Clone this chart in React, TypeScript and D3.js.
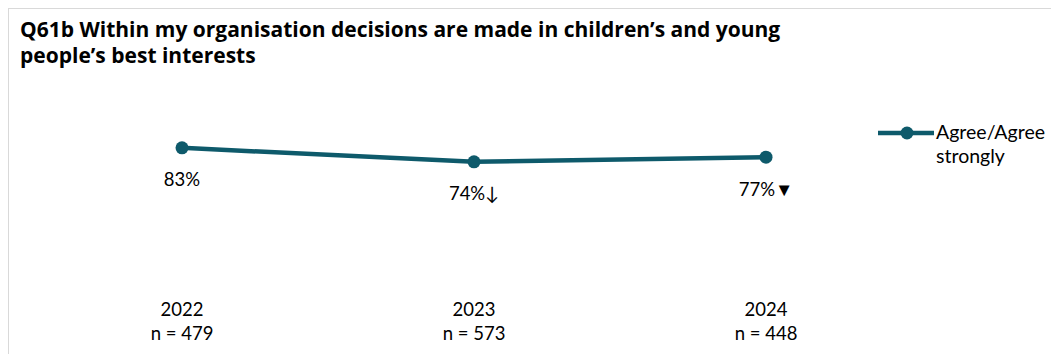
import React from "react";
import * as d3 from "d3";

const years = ["2022", "2023", "2024"];
const sampleSizes = ["n = 479", "n = 573", "n = 448"];
const values = [83, 74, 77];
const valueLabels = ["83%", "74%↓", "77%▼"];
const seriesName = ["Agree/Agree", "strongly"];
const titleLines = [
  "Q61b Within my organisation decisions are made in children’s and young",
  "people’s best interests",
];

const W = 1051;
const H = 354;
const COLOR = "#0e5a6b";
const FONT = "Lato, 'Open Sans', sans-serif";
const TITLE_FONT = "'Open Sans', Lato, sans-serif";

export default function App() {
  const x = d3.scalePoint<string>().domain(years).range([182, 766]);
  const y = d3.scaleLinear().domain([0, 100]).range([277, 121.4]);
  const line = d3
    .line<number>()
    .x((_, i) => x(years[i]) as number)
    .y((d) => y(d));

  return (
    <svg
      width={W}
      height={H}
      style={{ position: "absolute", left: 0, top: 0 }}
      fontFamily={FONT}
    >
      <rect x={0} y={0} width={W} height={H} fill="#fff" />
      <rect x={8.5} y={8.5} width={W + 20} height={H + 20} fill="#fff" stroke="#d9d9d9" strokeWidth={1} />
      {titleLines.map((t, i) => (
        <text key={i} x={20} y={37 + i * 26} fontSize={21} fontWeight={700} fill="#000" fontFamily={TITLE_FONT}>
          {t}
        </text>
      ))}
      <path d={line(values) || ""} fill="none" stroke={COLOR} strokeWidth={4.5} />
      {values.map((v, i) => (
        <circle key={i} cx={x(years[i])} cy={y(v)} r={6.5} fill={COLOR} />
      ))}
      {values.map((v, i) => (
        <text
          key={"l" + i}
          x={x(years[i])}
          y={y(v) + 38.5}
          fontSize={18.5}
          textAnchor="middle"
          fill="#000"
        >
          {valueLabels[i]}
        </text>
      ))}
      {years.map((yr, i) => (
        <g key={"c" + i}>
          <text x={x(yr)} y={316} fontSize={18.5} textAnchor="middle" fill="#000">
            {yr}
          </text>
          <text x={x(yr)} y={340} fontSize={18.5} textAnchor="middle" fill="#000">
            {sampleSizes[i]}
          </text>
        </g>
      ))}
      <g>
        <line x1={878} x2={934} y1={133} y2={133} stroke={COLOR} strokeWidth={4.5} />
        <circle cx={907} cy={133} r={6.5} fill={COLOR} />
        {seriesName.map((s, i) => (
          <text key={i} x={936} y={139 + i * 24} fontSize={19.5} fill="#000">
            {s}
          </text>
        ))}
      </g>
    </svg>
  );
}
